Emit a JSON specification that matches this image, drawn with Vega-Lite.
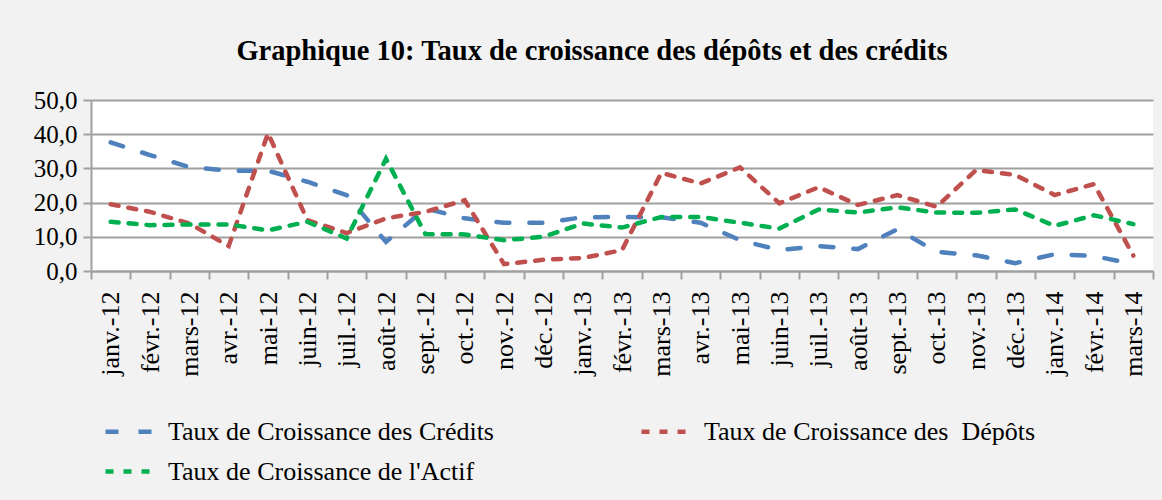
{
  "$schema": "https://vega.github.io/schema/vega-lite/v6.json",
  "autosize": {"type": "none"},
  "width": 1062,
  "height": 171,
  "padding": {"left": 91, "top": 100, "right": 9, "bottom": 229},
  "background": "#f2f2f2",
  "title": {
    "text": "Graphique 10: Taux de croissance des dépôts et des crédits",
    "font": "Liberation Serif",
    "fontSize": 28.5,
    "fontWeight": "bold",
    "color": "#000000",
    "anchor": "middle",
    "dx": -30,
    "offset": 23
  },
  "config": {
    "view": {"fill": "#ffffff", "stroke": null},
    "font": "Liberation Serif"
  },
  "data": {
    "values": [
      {"mois": "janv.-12", "Credits": 37.6, "Depots": 19.5, "Actif": 14.4},
      {"mois": "févr.-12", "Credits": 33.9, "Depots": 17.3, "Actif": 13.4},
      {"mois": "mars-12", "Credits": 30.4, "Depots": 13.9, "Actif": 13.6},
      {"mois": "avr.-12", "Credits": 29.3, "Depots": 7.3, "Actif": 13.6},
      {"mois": "mai-12", "Credits": 29.3, "Depots": 40.3, "Actif": 11.9},
      {"mois": "juin-12", "Credits": 26.1, "Depots": 14.9, "Actif": 14.4},
      {"mois": "juil.-12", "Credits": 22.2, "Depots": 11.1, "Actif": 9.5},
      {"mois": "août-12", "Credits": 8.5, "Depots": 15.4, "Actif": 32.8},
      {"mois": "sept.-12", "Credits": 18.3, "Depots": 17.3, "Actif": 10.8},
      {"mois": "oct.-12", "Credits": 15.4, "Depots": 20.7, "Actif": 10.7},
      {"mois": "nov.-12", "Credits": 14.1, "Depots": 2.0, "Actif": 9.0},
      {"mois": "déc.-12", "Credits": 14.1, "Depots": 3.3, "Actif": 10.0},
      {"mois": "janv.-13", "Credits": 15.7, "Depots": 3.8, "Actif": 13.9},
      {"mois": "févr.-13", "Credits": 15.8, "Depots": 6.1, "Actif": 12.7},
      {"mois": "mars-13", "Credits": 15.7, "Depots": 28.7, "Actif": 15.8},
      {"mois": "avr.-13", "Credits": 14.1, "Depots": 25.6, "Actif": 15.8},
      {"mois": "mai-13", "Credits": 9.0, "Depots": 30.3, "Actif": 14.1},
      {"mois": "juin-13", "Credits": 6.1, "Depots": 19.8, "Actif": 12.4},
      {"mois": "juil.-13", "Credits": 7.3, "Depots": 24.5, "Actif": 18.0},
      {"mois": "août-13", "Credits": 6.4, "Depots": 19.3, "Actif": 17.1},
      {"mois": "sept.-13", "Credits": 12.2, "Depots": 22.2, "Actif": 18.6},
      {"mois": "oct.-13", "Credits": 5.6, "Depots": 18.8, "Actif": 17.1},
      {"mois": "nov.-13", "Credits": 4.6, "Depots": 29.5, "Actif": 17.0},
      {"mois": "déc.-13", "Credits": 2.3, "Depots": 28.1, "Actif": 18.0},
      {"mois": "janv.-14", "Credits": 4.9, "Depots": 22.2, "Actif": 13.2},
      {"mois": "févr.-14", "Credits": 4.4, "Depots": 25.4, "Actif": 16.3},
      {"mois": "mars-14", "Credits": 2.0, "Depots": 4.5, "Actif": 13.7}
    ]
  },
  "transform": [
    {"fold": ["Credits", "Depots", "Actif"], "as": ["serie", "valeur"]}
  ],
  "mark": {"type": "line", "strokeWidth": 4.5, "strokeCap": "round"},
  "encoding": {
    "x": {
      "field": "mois",
      "type": "ordinal",
      "sort": null,
      "scale": {"type": "band", "paddingInner": 0, "paddingOuter": 0},
      "axis": {
        "title": null,
        "labelAngle": -90,
        "labelFont": "Liberation Serif",
        "labelFontSize": 26,
        "labelColor": "#000000",
        "labelPadding": 12,
        "tickBand": "extent",
        "tickSize": 8,
        "tickColor": "#a0a0a0",
        "tickWidth": 2,
        "domainColor": "#a0a0a0",
        "domainWidth": 2,
        "grid": false
      }
    },
    "y": {
      "field": "valeur",
      "type": "quantitative",
      "scale": {"domain": [0, 50]},
      "axis": {
        "title": null,
        "values": [0, 10, 20, 30, 40, 50],
        "labelExpr": "replace(format(datum.value, '.1f'), '.', ',')",
        "labelFont": "Liberation Serif",
        "labelFontSize": 25,
        "labelColor": "#000000",
        "labelPadding": 6,
        "tickSize": 8,
        "tickColor": "#a0a0a0",
        "tickWidth": 2,
        "domainColor": "#a0a0a0",
        "domainWidth": 2,
        "gridColor": "#a0a0a0",
        "gridWidth": 2
      }
    },
    "color": {
      "field": "serie",
      "type": "nominal",
      "scale": {"domain": ["Credits", "Depots", "Actif"], "range": ["#4f81bd", "#c0504d", "#00b050"]},
      "legend": {
        "title": null,
        "orient": "none",
        "legendX": 12,
        "legendY": 305,
        "columns": 2,
        "direction": "horizontal",
        "symbolType": "stroke",
        "symbolSize": 2304,
        "symbolStrokeWidth": 4.5,
        "labelFont": "Liberation Serif",
        "labelFontSize": 26,
        "labelColor": "#000000",
        "labelOffset": 12,
        "labelLimit": 600,
        "columnPadding": 138,
        "rowPadding": -8,
        "labelExpr": "datum.label == 'Credits' ? 'Taux de Croissance des Crédits' : datum.label == 'Depots' ? 'Taux de Croissance des\u00a0 Dépôts' : 'Taux de Croissance de l\\'Actif'"
      }
    },
    "strokeDash": {
      "field": "serie",
      "type": "nominal",
      "scale": {"domain": ["Credits", "Depots", "Actif"], "range": [[13, 20], [8, 10], [8, 10]]},
      "legend": {
        "title": null,
        "orient": "none",
        "legendX": 12,
        "legendY": 305,
        "columns": 2,
        "direction": "horizontal",
        "symbolType": "stroke",
        "symbolSize": 2304,
        "symbolStrokeWidth": 4.5,
        "labelFont": "Liberation Serif",
        "labelFontSize": 26,
        "labelColor": "#000000",
        "labelOffset": 12,
        "labelLimit": 600,
        "columnPadding": 138,
        "rowPadding": -8,
        "labelExpr": "datum.label == 'Credits' ? 'Taux de Croissance des Crédits' : datum.label == 'Depots' ? 'Taux de Croissance des\u00a0 Dépôts' : 'Taux de Croissance de l\\'Actif'"
      }
    }
  }
}
